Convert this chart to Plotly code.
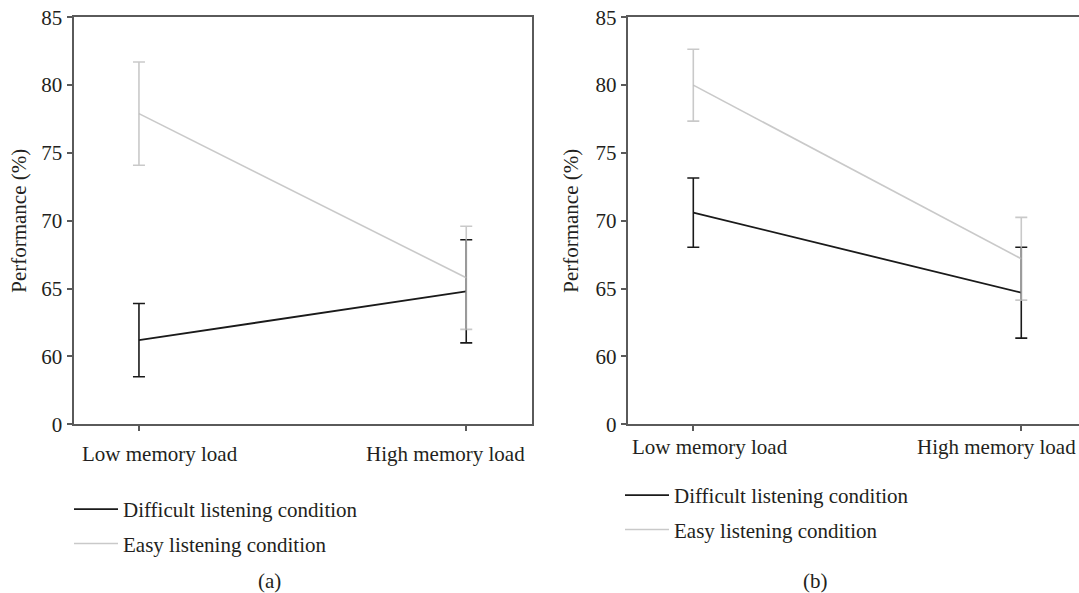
import plotly.graph_objects as go

# ---------------- data ----------------
CATEGORIES = ["Low memory load", "High memory load"]
SERIES_NAMES = ["Difficult listening condition", "Easy listening condition"]

# panel (a)
A_DIFFICULT = [61.2, 64.8]
A_DIFFICULT_ERR = [2.7, 3.8]
A_EASY = [77.9, 65.8]
A_EASY_ERR = [3.8, 3.8]

# panel (b)
B_DIFFICULT = [70.6, 64.7]
B_DIFFICULT_ERR = [2.55, 3.35]
B_EASY = [80.0, 67.2]
B_EASY_ERR = [2.65, 3.05]

# y axis is drawn with a break: the bottom tick reads "0"
Y_TICK_VALUES = [55, 60, 65, 70, 75, 80, 85]
Y_TICK_TEXT = ["0", "60", "65", "70", "75", "80", "85"]
PANEL_LABELS = ["(a)", "(b)"]
Y_TITLE = "Performance (%)"

# ---------------- style ----------------
W, H = 1079, 593
FONT = "Liberation Serif"
FS = 21
TEXT_COLOR = "#231f20"
AXIS_COLOR = "#5a5a5a"
DIFF_COLOR = "#1a1a1a"
EASY_COLOR = "rgba(187,187,187,0.8)"


def px_x(p):
    return p / W


def px_y(p):
    return 1 - p / H


fig = go.Figure()

panels = [
    dict(diff=A_DIFFICULT, diff_err=A_DIFFICULT_ERR, easy=A_EASY, easy_err=A_EASY_ERR,
         xa="x", ya="y", legend="legend"),
    dict(diff=B_DIFFICULT, diff_err=B_DIFFICULT_ERR, easy=B_EASY, easy_err=B_EASY_ERR,
         xa="x2", ya="y2", legend="legend2"),
]

for i, p in enumerate(panels):
    for name, vals, errs, color, width in [
        (SERIES_NAMES[0], p["diff"], p["diff_err"], DIFF_COLOR, 1.8),
        (SERIES_NAMES[1], p["easy"], p["easy_err"], EASY_COLOR, 1.6),
    ]:
        fig.add_trace(go.Scatter(
            x=CATEGORIES, y=vals, mode="lines", name=name,
            line=dict(color=color, width=width),
            error_y=dict(type="data", array=errs, visible=True, color=color,
                         thickness=1.6, width=6),
            xaxis=p["xa"], yaxis=p["ya"], legend=p["legend"],
            legendgroup=f"{p['legend']}_{name}",
            hoverinfo="skip",
        ))

# plot areas (pixel geometry from the reference)
Y_TOP, Y_BOT = 17.3, 424.3
A_L, A_R = 73.5, 531.7
B_L, B_R = 627.7, 1079.0
B_RANGE_MAX = 1.176

common_x = dict(type="category", showline=True, linecolor=AXIS_COLOR, linewidth=2,
                ticks="outside", ticklen=5, tickwidth=1.5, tickcolor=AXIS_COLOR,
                showticklabels=False, showgrid=False, zeroline=False,
                fixedrange=True)
common_y = dict(range=[55, 85], tickmode="array", tickvals=Y_TICK_VALUES,
                ticktext=Y_TICK_TEXT, showline=True, linecolor=AXIS_COLOR,
                linewidth=2, ticks="outside", ticklen=5, tickwidth=1.5,
                tickcolor=AXIS_COLOR, showgrid=False, zeroline=False,
                tickfont=dict(family=FONT, size=FS, color=TEXT_COLOR),
                automargin=False, fixedrange=True)

legend_common = dict(xanchor="left", yanchor="top",
                     font=dict(family=FONT, size=FS, color=TEXT_COLOR),
                     itemwidth=44, tracegroupgap=4, bgcolor="rgba(0,0,0,0)")

fig.update_layout(
    width=W, height=H,
    margin=dict(l=0, r=0, t=0, b=0),
    paper_bgcolor="white", plot_bgcolor="white",
    font=dict(family=FONT, color=TEXT_COLOR, size=FS),
    xaxis=dict(common_x, domain=[px_x(A_L), px_x(A_R)], range=[-0.2, 1.2],
               anchor="y", mirror=True),
    yaxis=dict(common_y, domain=[px_y(Y_BOT), px_y(Y_TOP)], anchor="x", mirror=True),
    xaxis2=dict(common_x, domain=[px_x(B_L), px_x(B_R)], range=[-0.2, B_RANGE_MAX],
                anchor="y2", mirror=True),
    yaxis2=dict(common_y, domain=[px_y(Y_BOT), px_y(Y_TOP)], anchor="x2", mirror=False),
    legend=dict(legend_common, x=px_x(69), y=px_y(489)),
    legend2=dict(legend_common, x=px_x(620), y=px_y(475)),
    showlegend=True,
)

annotations = []
# x category labels (pushed inward as in the reference)
for xref, shifts, ypix in [("x", [21, -21], 454), ("x2", [17, -25], 447)]:
    for cat, sh in zip(CATEGORIES, shifts):
        annotations.append(dict(x=cat, xref=xref, y=px_y(ypix), yref="paper",
                                text=cat, showarrow=False, xshift=sh,
                                xanchor="center", yanchor="middle",
                                font=dict(family=FONT, size=FS, color=TEXT_COLOR)))
# y titles
for xpix in [19, 571]:
    annotations.append(dict(x=px_x(xpix), y=px_y((Y_TOP + Y_BOT) / 2), xref="paper",
                            yref="paper", text=Y_TITLE, textangle=-90, showarrow=False,
                            xanchor="center", yanchor="middle",
                            font=dict(family=FONT, size=FS, color=TEXT_COLOR)))
# panel labels
for lab, xpix in zip(PANEL_LABELS, [269, 815]):
    annotations.append(dict(x=px_x(xpix), y=px_y(581), xref="paper", yref="paper",
                            text=lab, showarrow=False, xanchor="center",
                            yanchor="middle",
                            font=dict(family=FONT, size=FS, color=TEXT_COLOR)))
fig.update_layout(annotations=annotations)

fig.write_html("out.html")
